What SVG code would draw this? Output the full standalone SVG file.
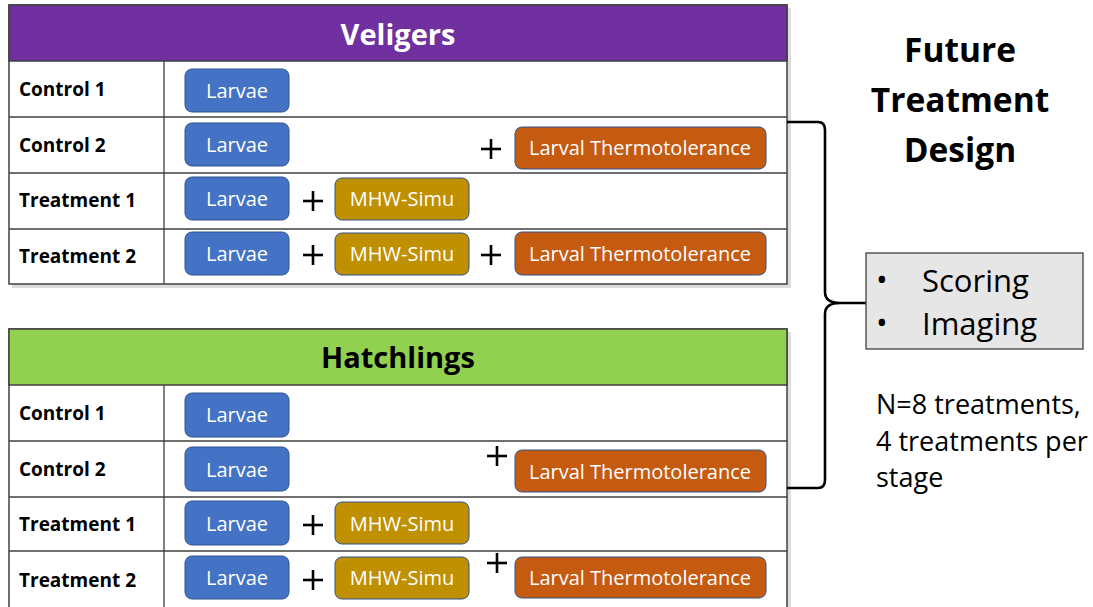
<svg xmlns="http://www.w3.org/2000/svg" width="1093" height="607" viewBox="0 0 1093 607">
<style>
.tbl{fill:#fff;stroke:#404040;stroke-width:1.5}
.shadow{fill:#bbb;opacity:0.5}
.grid{stroke:#404040;stroke-width:1.3}
.lab{font-family:"Open Sans","Liberation Sans",sans-serif;font-weight:bold;font-size:19px;fill:#000}
.hdr{font-family:"Open Sans","Liberation Sans",sans-serif;font-weight:bold;font-size:29px;text-anchor:middle}
.bx{stroke:#2F528F;stroke-width:1}
.larv{fill:#4472C4}
.mhw{fill:#BF9000}
.therm{fill:#C55A11}
.bt{font-family:"Open Sans","Liberation Sans",sans-serif;font-size:20px;fill:#fff;text-anchor:middle}
.plus{stroke:#000;stroke-width:2.6}
.big{font-family:"Open Sans","Liberation Sans",sans-serif;font-weight:bold;font-size:33.5px;text-anchor:middle;fill:#000}
.side{font-family:"Open Sans","Liberation Sans",sans-serif;font-size:31px;fill:#000}
.note{font-family:"Open Sans","Liberation Sans",sans-serif;font-size:27px;fill:#000}
</style>
<defs>
<g id="plusSign"><line class="plus" x1="-10" y1="0" x2="10" y2="0"/><line class="plus" x1="0" y1="-10" x2="0" y2="10"/></g>
</defs>
<rect width="1093" height="607" fill="#fff"/>

<g id="veligers">
<rect class="shadow" x="12" y="8" width="779" height="280"/>
<rect class="tbl" x="9" y="5" width="778" height="279"/>
<rect x="9" y="5" width="778" height="56" fill="#7030A0" stroke="#404040" stroke-width="1.5"/>
<text class="hdr" x="398" y="45" fill="#fff">Veligers</text>
<line class="grid" x1="9" y1="117" x2="787" y2="117"/>
<line class="grid" x1="9" y1="173" x2="787" y2="173"/>
<line class="grid" x1="9" y1="229" x2="787" y2="229"/>
<line class="grid" x1="164" y1="61" x2="164" y2="284"/>
<text class="lab" x="19" y="96">Control 1</text>
<text class="lab" x="19" y="152">Control 2</text>
<text class="lab" x="19" y="207">Treatment 1</text>
<text class="lab" x="19" y="263">Treatment 2</text>
<g id="v-c1"><rect class="bx larv" x="185" y="69" width="104" height="43" rx="7"/><text class="bt" x="237" y="98">Larvae</text></g>
<g id="v-c2"><rect class="bx larv" x="185" y="123" width="104" height="43" rx="7"/><text class="bt" x="237" y="152">Larvae</text>
<use href="#plusSign" x="491" y="149"/>
<rect class="bx therm" x="515" y="127" width="251" height="42" rx="7"/><text class="bt" x="640" y="155">Larval Thermotolerance</text></g>
<g id="v-t1"><rect class="bx larv" x="185" y="177" width="104" height="43" rx="7"/><text class="bt" x="237" y="206">Larvae</text>
<use href="#plusSign" x="313" y="201"/>
<rect class="bx mhw" x="335" y="178" width="134" height="42" rx="7"/><text class="bt" x="402" y="206">MHW-Simu</text></g>
<g id="v-t2"><rect class="bx larv" x="185" y="232" width="104" height="43" rx="7"/><text class="bt" x="237" y="261">Larvae</text>
<use href="#plusSign" x="313" y="255"/>
<rect class="bx mhw" x="335" y="233" width="134" height="42" rx="7"/><text class="bt" x="402" y="261">MHW-Simu</text>
<use href="#plusSign" x="491" y="255"/>
<rect class="bx therm" x="515" y="232" width="251" height="43" rx="7"/><text class="bt" x="640" y="261">Larval Thermotolerance</text></g>
</g>

<g id="hatchlings">
<rect class="shadow" x="12" y="332" width="779" height="280"/>
<rect class="tbl" x="9" y="329" width="778" height="290"/>
<rect x="9" y="329" width="778" height="56" fill="#92D050" stroke="#404040" stroke-width="1.5"/>
<text class="hdr" x="398" y="368" fill="#000">Hatchlings</text>
<line class="grid" x1="9" y1="441" x2="787" y2="441"/>
<line class="grid" x1="9" y1="497" x2="787" y2="497"/>
<line class="grid" x1="9" y1="551" x2="787" y2="551"/>
<line class="grid" x1="164" y1="385" x2="164" y2="607"/>
<text class="lab" x="19" y="420">Control 1</text>
<text class="lab" x="19" y="476">Control 2</text>
<text class="lab" x="19" y="531">Treatment 1</text>
<text class="lab" x="19" y="587">Treatment 2</text>
<g id="h-c1"><rect class="bx larv" x="185" y="393" width="104" height="44" rx="7"/><text class="bt" x="237" y="422">Larvae</text></g>
<g id="h-c2"><rect class="bx larv" x="185" y="447" width="104" height="44" rx="7"/><text class="bt" x="237" y="477">Larvae</text>
<use href="#plusSign" x="497" y="456"/>
<rect class="bx therm" x="515" y="450" width="251" height="42" rx="7"/><text class="bt" x="640" y="479">Larval Thermotolerance</text></g>
<g id="h-t1"><rect class="bx larv" x="185" y="501" width="104" height="44" rx="7"/><text class="bt" x="237" y="531">Larvae</text>
<use href="#plusSign" x="313" y="525"/>
<rect class="bx mhw" x="335" y="502" width="134" height="42" rx="7"/><text class="bt" x="402" y="531">MHW-Simu</text></g>
<g id="h-t2"><rect class="bx larv" x="185" y="556" width="104" height="43" rx="7"/><text class="bt" x="237" y="585">Larvae</text>
<use href="#plusSign" x="313" y="580"/>
<rect class="bx mhw" x="335" y="557" width="134" height="42" rx="7"/><text class="bt" x="402" y="585">MHW-Simu</text>
<use href="#plusSign" x="497" y="563"/>
<rect class="bx therm" x="515" y="557" width="251" height="41" rx="7"/><text class="bt" x="640" y="585">Larval Thermotolerance</text></g>
</g>

<g id="connectors">
<path d="M787,122 L818,122 Q825,122 825,130 L825,292 Q825,303 840,303 L866,303 M840,303 Q825,303 825,314 L825,480 Q825,488 818,488 L787,488" fill="none" stroke="#000" stroke-width="2.6"/>
</g>

<g id="title">
<text class="big" x="960" y="62">Future</text>
<text class="big" x="960" y="112">Treatment</text>
<text class="big" x="960" y="162">Design</text>
</g>

<g id="outputs">
<rect x="866" y="253" width="217" height="96" fill="#E6E6E6" stroke="#404040" stroke-width="1.3"/>
<text class="side" x="876" y="291">•</text>
<text class="side" x="922" y="292">Scoring</text>
<text class="side" x="876" y="334">•</text>
<text class="side" x="922" y="335">Imaging</text>
</g>

<g id="note">
<text class="note" x="876" y="414">N=8 treatments,</text>
<text class="note" x="876" y="451">4 treatments per</text>
<text class="note" x="876" y="487">stage</text>
</g>
</svg>
